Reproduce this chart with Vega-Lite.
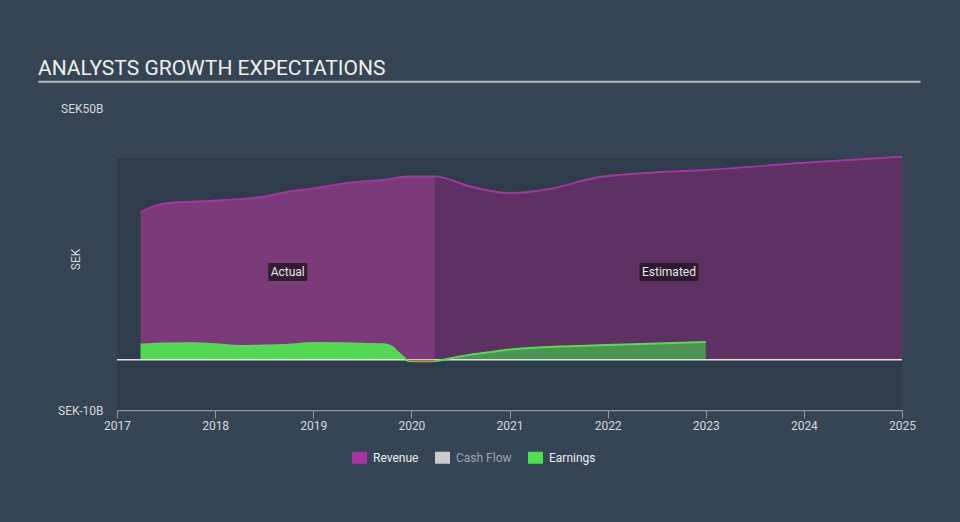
{
  "$schema": "https://vega.github.io/schema/vega-lite/v6.json",
  "width": 785,
  "height": 302,
  "autosize": {"type": "none"},
  "padding": {"left": 117, "top": 108, "right": 58, "bottom": 112},
  "background": "#354556",
  "title": {
    "text": "ANALYSTS GROWTH EXPECTATIONS",
    "anchor": "start",
    "frame": "group",
    "dx": -79,
    "dy": 19,
    "offset": 4,
    "baseline": "alphabetic",
    "font": "Roboto",
    "fontSize": 21,
    "fontWeight": "normal",
    "color": "#f0f0f0"
  },
  "datasets": {
    "series": [
      {"series": "Revenue", "year": 2017.24, "value": 29.3},
      {"series": "Revenue", "year": 2017.38, "value": 30.5},
      {"series": "Revenue", "year": 2017.51, "value": 31.1},
      {"series": "Revenue", "year": 2017.85, "value": 31.45},
      {"series": "Revenue", "year": 2018.19, "value": 31.8},
      {"series": "Revenue", "year": 2018.46, "value": 32.3},
      {"series": "Revenue", "year": 2018.73, "value": 33.3},
      {"series": "Revenue", "year": 2019.0, "value": 34.0},
      {"series": "Revenue", "year": 2019.34, "value": 35.1},
      {"series": "Revenue", "year": 2019.75, "value": 35.8},
      {"series": "Revenue", "year": 2019.95, "value": 36.4},
      {"series": "Revenue", "year": 2020.24, "value": 36.4},
      {"series": "Revenue", "year": 2020.6, "value": 34.4},
      {"series": "Revenue", "year": 2021.0, "value": 33.1},
      {"series": "Revenue", "year": 2021.38, "value": 33.8},
      {"series": "Revenue", "year": 2021.89, "value": 36.2},
      {"series": "Revenue", "year": 2022.46, "value": 37.2},
      {"series": "Revenue", "year": 2023.0, "value": 37.7},
      {"series": "Revenue", "year": 2024.0, "value": 39.1},
      {"series": "Revenue", "year": 2025.0, "value": 40.3},
      {"series": "Earnings", "year": 2017.24, "value": 3.0},
      {"series": "Earnings", "year": 2017.5, "value": 3.2},
      {"series": "Earnings", "year": 2017.78, "value": 3.25},
      {"series": "Earnings", "year": 2018.0, "value": 3.05},
      {"series": "Earnings", "year": 2018.25, "value": 2.7},
      {"series": "Earnings", "year": 2018.5, "value": 2.8},
      {"series": "Earnings", "year": 2018.75, "value": 2.95},
      {"series": "Earnings", "year": 2019.0, "value": 3.3},
      {"series": "Earnings", "year": 2019.4, "value": 3.2},
      {"series": "Earnings", "year": 2019.72, "value": 3.05},
      {"series": "Earnings", "year": 2019.8, "value": 2.6},
      {"series": "Earnings", "year": 2019.86, "value": 1.5},
      {"series": "Earnings", "year": 2019.93, "value": 0.3},
      {"series": "Earnings", "year": 2019.97, "value": -0.25},
      {"series": "Earnings", "year": 2020.1, "value": -0.3},
      {"series": "Earnings", "year": 2020.24, "value": -0.25},
      {"series": "Earnings", "year": 2020.4, "value": 0.3},
      {"series": "Earnings", "year": 2020.6, "value": 1.0},
      {"series": "Earnings", "year": 2020.8, "value": 1.5},
      {"series": "Earnings", "year": 2021.0, "value": 2.0},
      {"series": "Earnings", "year": 2021.2, "value": 2.3},
      {"series": "Earnings", "year": 2021.5, "value": 2.6},
      {"series": "Earnings", "year": 2021.9, "value": 2.85},
      {"series": "Earnings", "year": 2022.5, "value": 3.2},
      {"series": "Earnings", "year": 2023.0, "value": 3.5}
    ],
    "labels": [
      {"label": "Actual", "year": 2018.74, "value": 17.4},
      {"label": "Estimated", "year": 2022.625, "value": 17.4}
    ]
  },
  "layer": [
    {
      "data": {"values": [{}]},
      "mark": {"type": "rect", "color": "#2e3c4b"},
      "encoding": {
        "x": {
          "datum": 2017,
          "type": "quantitative",
          "scale": {"domain": [2017, 2025], "nice": false, "zero": false},
          "axis": {
            "title": null,
            "values": [2017, 2018, 2019, 2020, 2021, 2022, 2023, 2024, 2025],
            "format": "d",
            "grid": false,
            "labelFlush": false,
            "domainColor": "#8d99a6",
            "domainWidth": 1.5,
            "tickColor": "#8d99a6",
            "tickSize": 8,
            "labelPadding": 2,
            "labelColor": "#d5d9dd",
            "labelFont": "Roboto",
            "labelFontSize": 12
          }
        },
        "x2": {"datum": 2025},
        "y": {
          "datum": -10,
          "type": "quantitative",
          "scale": {"domain": [-10, 50], "nice": false, "zero": false},
          "axis": {
            "title": "SEK",
            "values": [-10, 50],
            "labelExpr": "'SEK' + datum.value + 'B'",
            "labelFlush": false,
            "domain": false,
            "ticks": false,
            "grid": false,
            "labelAlign": "right",
            "labelBaseline": "middle",
            "labelPadding": 14,
            "labelColor": "#d5d9dd",
            "labelFont": "Roboto",
            "labelFontSize": 12,
            "titleX": -42,
            "titleY": 151,
            "titleAngle": -90,
            "titleAlign": "center",
            "titleBaseline": "middle",
            "titleFont": "Roboto",
            "titleFontSize": 12,
            "titleFontWeight": "normal",
            "titleColor": "#d5d9dd"
          }
        },
        "y2": {"datum": 40}
      }
    },
    {
      "data": {"name": "series"},
      "transform": [{"filter": "datum.series === 'Revenue' && datum.year <= 2020.24"}],
      "mark": {"type": "area", "color": "#7b3a78", "interpolate": "monotone"},
      "encoding": {
        "x": {"field": "year", "type": "quantitative"},
        "y": {"field": "value", "type": "quantitative"},
        "y2": {"datum": 0}
      }
    },
    {
      "data": {"name": "series"},
      "transform": [{"filter": "datum.series === 'Revenue' && datum.year >= 2020.24"}],
      "mark": {"type": "area", "color": "#5d3162", "interpolate": "monotone"},
      "encoding": {
        "x": {"field": "year", "type": "quantitative"},
        "y": {"field": "value", "type": "quantitative"},
        "y2": {"datum": 0}
      }
    },
    {
      "data": {"name": "series"},
      "transform": [{"filter": "datum.series === 'Earnings' && datum.year <= 2020.24"}],
      "mark": {"type": "area", "color": "#53d853", "interpolate": "monotone"},
      "encoding": {
        "x": {"field": "year", "type": "quantitative"},
        "y": {"field": "value", "type": "quantitative"},
        "y2": {"datum": 0}
      }
    },
    {
      "data": {"name": "series"},
      "transform": [{"filter": "datum.series === 'Earnings' && datum.year >= 2020.24"}],
      "mark": {"type": "area", "color": "#4d9452", "interpolate": "monotone"},
      "encoding": {
        "x": {"field": "year", "type": "quantitative"},
        "y": {"field": "value", "type": "quantitative"},
        "y2": {"datum": 0}
      }
    },
    {
      "data": {"values": [{}]},
      "mark": {"type": "rule", "color": "#dfe3e6", "strokeWidth": 1.5},
      "encoding": {
        "x": {"datum": 2017},
        "x2": {"datum": 2025},
        "y": {"datum": 0}
      }
    },
    {
      "data": {"name": "series"},
      "mark": {"type": "line", "strokeWidth": 2, "interpolate": "monotone"},
      "encoding": {
        "x": {"field": "year", "type": "quantitative"},
        "y": {"field": "value", "type": "quantitative"},
        "color": {
          "field": "series",
          "type": "nominal",
          "scale": {
            "domain": ["Revenue", "Cash Flow", "Earnings"],
            "range": ["#a8349f", "#cccccc", "#4fe04f"]
          },
          "legend": {
            "title": null,
            "orient": "none",
            "legendX": 235,
            "legendY": 342,
            "direction": "horizontal",
            "symbolType": "M-1,-0.8H1V0.8H-1Z",
            "symbolSize": 225,
            "symbolStrokeWidth": 0,
            "labelOffset": 6,
            "columnPadding": 16,
            "labelFont": "Roboto",
            "labelFontSize": 12,
            "labelFontWeight": "normal",
            "encode": {
              "symbols": {
                "update": {
                  "fill": {"scale": "color", "field": "value"},
                  "stroke": {"value": "transparent"},
                  "opacity": {"value": 1}
                }
              },
              "labels": {
                "update": {
                  "fill": {"signal": "datum.label === 'Cash Flow' ? '#9ba5af' : '#eceef0'"}
                }
              }
            }
          }
        }
      }
    },
    {
      "data": {"name": "series"},
      "transform": [{"filter": "datum.series === 'Earnings' && datum.year >= 2019.97 && datum.year <= 2020.24"}],
      "mark": {"type": "area", "color": "#e0503c", "interpolate": "monotone"},
      "encoding": {
        "x": {"field": "year", "type": "quantitative"},
        "y": {"field": "value", "type": "quantitative"},
        "y2": {"datum": 0}
      }
    },
    {
      "data": {"name": "labels"},
      "transform": [{"filter": "datum.label === 'Actual'"}],
      "mark": {"type": "point", "shape": "M-1,-0.4615H1V0.4615H-1Z", "size": 1521, "filled": true, "color": "#331d34", "opacity": 1},
      "encoding": {
        "x": {"field": "year", "type": "quantitative"},
        "y": {"field": "value", "type": "quantitative"}
      }
    },
    {
      "data": {"name": "labels"},
      "transform": [{"filter": "datum.label === 'Estimated'"}],
      "mark": {"type": "point", "shape": "M-1,-0.305H1V0.305H-1Z", "size": 3481, "filled": true, "color": "#2c1b2e", "opacity": 1},
      "encoding": {
        "x": {"field": "year", "type": "quantitative"},
        "y": {"field": "value", "type": "quantitative"}
      }
    },
    {
      "data": {"name": "labels"},
      "mark": {"type": "text", "color": "#e8e8e8", "font": "Roboto", "fontSize": 12, "align": "center", "baseline": "middle"},
      "encoding": {
        "x": {"field": "year", "type": "quantitative"},
        "y": {"field": "value", "type": "quantitative"},
        "text": {"field": "label"}
      }
    },
    {
      "data": {"values": [{}]},
      "mark": {"type": "rule", "color": "#b4bac0", "strokeWidth": 2},
      "encoding": {
        "x": {"datum": 2016.198},
        "x2": {"datum": 2025.19},
        "y": {"datum": 55.22}
      }
    }
  ],
  "config": {
    "view": {"stroke": null},
    "font": "Roboto"
  }
}
